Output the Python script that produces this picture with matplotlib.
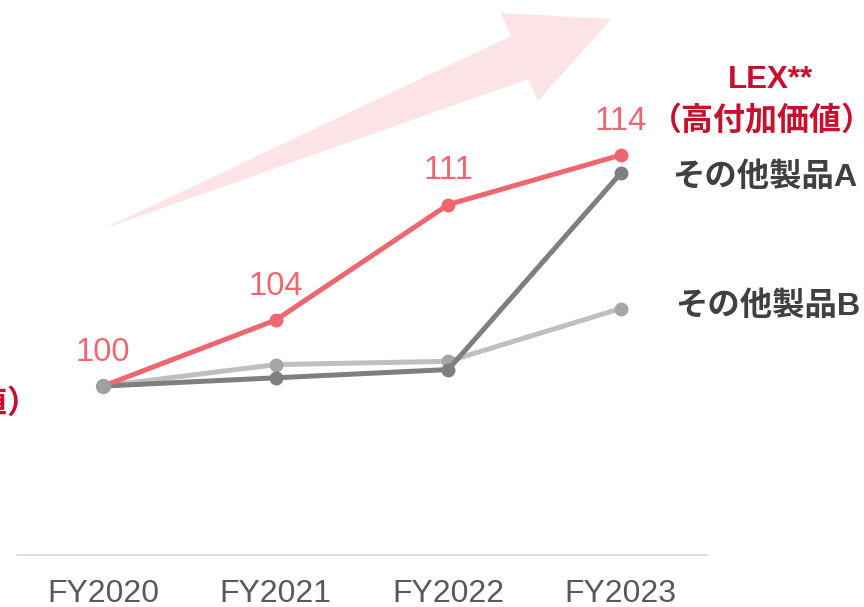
import matplotlib
matplotlib.use("Agg")
import matplotlib.pyplot as plt
from matplotlib.patches import Polygon

plt.rcParams['font.family'] = ['Liberation Sans', 'Noto Sans CJK JP', 'DejaVu Sans']

years = ["FY2020", "FY2021", "FY2022", "FY2023"]
lex = [100, 104, 111, 114]
other_a = [100, 100.5, 101.0, 112.9]
other_b = [100, 101.3, 101.5, 104.7]

red = "#ee6670"
dark_red = "#c8102e"
gray_a = "#7f7f7f"
gray_b = "#bfbfbf"
gray_b_mk = "#a6a6a6"
txt_gray = "#404040"

fig = plt.figure(figsize=(8.64, 6.07), dpi=100)
ax = fig.add_axes([17 / 864, 1 - 555 / 607, 690 / 864, 555 / 607])

x = list(range(len(years)))

# background trend arrow (decoration, axes fraction)
def px(xp, yp):
    return ((xp - 17) / 690, (555 - yp) / 555)

arrow_pts = [px(103, 229), px(511, 36), px(501, 13), px(611, 19),
             px(538, 101), px(528, 79)]
ax.add_patch(Polygon(arrow_pts, closed=True, transform=ax.transAxes,
                     facecolor="#fbe3e6", edgecolor="none", zorder=0))

ax.plot(x, lex, color=red, lw=3.6, marker="o", ms=9, zorder=3)
ax.plot(x, other_b, color=gray_b, lw=3.6, marker="o", ms=9,
        markerfacecolor=gray_b_mk, markeredgecolor=gray_b_mk, zorder=2)
ax.plot(x, other_a, color=gray_a, lw=3.6, marker="o", ms=9, zorder=2.5)
# common start point
ax.plot([x[0]], [lex[0]], marker="o", ms=10, color="#a0a0a0", zorder=4)

for xi, v in zip(x, lex):
    ax.annotate(f"{v}", (xi, v), xytext=(0, 24.5), textcoords="offset points",
                ha="center", va="center", fontsize=23.5, color=red)

ax.set_xlim(-0.5, 3.5)
ax.set_ylim(89.76, 123.4)
ax.set_xticks(x)
ax.set_xticklabels(years, fontsize=23, color="#595959")
ax.tick_params(axis="x", length=0, pad=17)
ax.set_yticks([])
for s in ["top", "right", "left"]:
    ax.spines[s].set_visible(False)
ax.spines["bottom"].set_color("#d9d9d9")
ax.spines["bottom"].set_linewidth(1.2)

fig.text(770 / 864, 1 - 80 / 607, "LEX**", ha="center", va="center",
         fontsize=22.5, fontweight="bold", color=dark_red)
fig.text(762 / 864, 1 - 122 / 607, "（高付加価値）", ha="center", va="center",
         fontsize=23, fontweight="bold", color=dark_red)
fig.text(765 / 864, 1 - 178 / 607, "その他製品A", ha="center", va="center",
         fontsize=23.3, fontweight="bold", color=txt_gray)
fig.text(768 / 864, 1 - 307 / 607, "その他製品B", ha="center", va="center",
         fontsize=23.3, fontweight="bold", color=txt_gray)
# label cut at the left edge
fig.text(40 / 864, 1 - 405 / 607, "（高付加価値）", ha="right", va="center",
         fontsize=23, fontweight="bold", color=dark_red)

fig.savefig("out.png", dpi=100)
